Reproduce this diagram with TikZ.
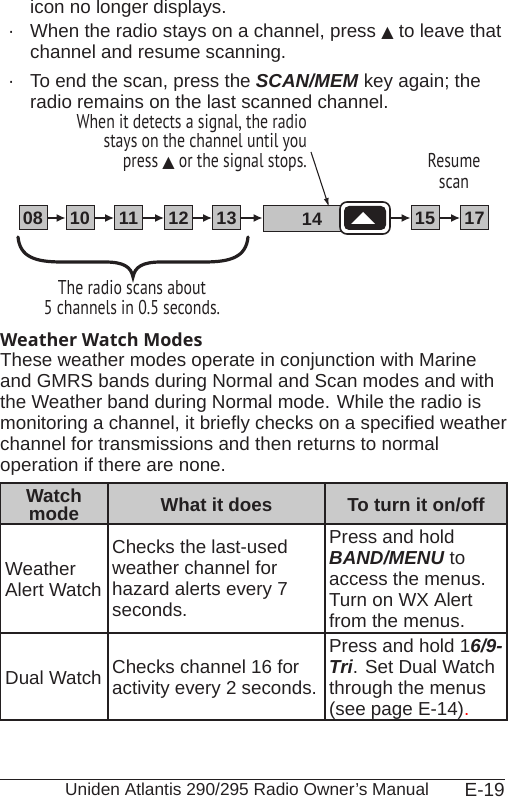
\documentclass[tikz,border=0pt]{standalone}
\usepackage{fontspec}
\setmainfont{Liberation Sans}
\newfontfamily\condf[FakeStretch=0.79]{PT Sans}
\newfontfamily\headf{Open Sans}
\newfontfamily\symf{DejaVu Sans}
\usetikzlibrary{arrows.meta}
\definecolor{ink}{HTML}{231F20}
\definecolor{boxgray}{HTML}{C4C4C4}
\definecolor{headgray}{HTML}{CACACA}
\newcommand\tri{{\symf\fontsize{16}{16}\selectfont ▲}}
\begin{document}
\begin{tikzpicture}[x=1pt,y=-1pt,
  body/.style={anchor=base west, inner sep=0, text=ink, font=\fontsize{18.8}{21}\selectfont},
  bodyc/.style={body, anchor=base},
  bodyb/.style={bodyc, font=\bfseries\fontsize{18.8}{21}\selectfont},
  cond/.style={inner sep=0, text=ink, font=\condf\fontsize{20}{17.5}\selectfont},
  chan/.style={draw=ink, fill=boxgray, line width=1pt, minimum width=28, minimum height=24, inner sep=0, text=ink, font=\bfseries\fontsize{18}{18}\selectfont},
  chanarrow/.style={-{Latex[length=9pt,width=8pt]}, line width=1.4pt, draw=ink},
  tablerule/.style={draw=ink, line width=1.2pt}]
\useasboundingbox (0,0) rectangle (508,799);

% top text
\node[body] (t1) at (30,14) {icon no longer displays.};
\node[body] (b1) at (8,38) {·};
\node[body] (t2) at (30,38) {When the radio stays on a channel, press \tri\ to leave that};
\node[body] (t3) at (30,59) {channel and resume scanning.};
\node[body] (b2) at (8,88) {·};
\node[body] (t4) at (30,88) {To end the scan, press the \textbf{\itshape SCAN/MEM} key again; the};
\node[body] (t5) at (30,109) {radio remains on the last scanned channel.};

% diagram
\node[chan] (c08) at (33,218) {08};
\node[chan] (c10) at (80,218) {10};
\node[chan] (c11) at (128.5,218) {11};
\node[chan] (c12) at (178.5,218) {12};
\node[chan] (c13) at (226.5,218) {13};
\node[chan, minimum width=82, minimum height=26] (b14) at (304,219) {};
\node[inner sep=0, text=ink, font=\bfseries\fontsize{18}{18}\selectfont] (t14) at (312,219) {14};
\node[draw=ink, fill=white, line width=1.6pt, rounded corners=7pt, minimum width=50, minimum height=32, inner sep=0] (btn) at (365,218) {};
\node[fill=ink, rounded corners=5pt, minimum width=42, minimum height=24, inner sep=0] (btnin) at (365,218) {};
\fill[white] (351,224) -- (375,224) -- (363,212) -- cycle;
\node[chan] (c15) at (425,218) {15};
\node[chan] (c17) at (474.5,218) {17};
\draw[chanarrow] (c08.east) -- (c10.west);
\draw[chanarrow] (c10.east) -- (c11.west);
\draw[chanarrow] (c11.east) -- (c12.west);
\draw[chanarrow] (c12.east) -- (c13.west);
\draw[chanarrow] (c13.east) -- (b14.west |- c13.east);
\draw[chanarrow] (btn.east |- c15.west) -- (c15.west);
\draw[chanarrow] (c15.east) -- (c17.west);

\node[cond, align=right, anchor=north east] (sig) at (307,114) {When it detects a signal, the radio\\stays on the channel until you\\press \tri\ or the signal stops.};
\coordinate (sigtail) at (311,152);
\coordinate (sighead) at (329,207);
\draw[-{Latex[length=9pt,width=5pt]}, line width=1.1pt, draw=ink] (sigtail) -- (sighead);

\node[cond, align=center, font=\condf\fontsize{20}{21.5}\selectfont] (resume) at (454,171) {Resume\\scan};

\draw[line width=3.2pt, draw=ink, line cap=round] (18,237) .. controls (20,257) and (35,262) .. (62,262) -- (105,262) .. controls (124,262) and (131,267) .. (133,277) .. controls (135,267) and (142,262) .. (161,262) -- (204,262) .. controls (231,262) and (246,257) .. (248,237);
\node[cond, align=center, font=\condf\fontsize{20}{20}\selectfont] (scans) at (132,298) {The radio scans about\\5 channels in 0.5 seconds.};

% weather section
\node[body, font=\headf\bfseries\fontsize{18}{21}\selectfont] (head) at (0,346) {Weather Watch Modes};
\node[body] (p1) at (0,366) {These weather modes operate in conjunction with Marine};
\node[body] (p2) at (0,387) {and GMRS bands during Normal and Scan modes and with};
\node[body] (p3) at (0,408) {the Weather band during Normal mode. While the radio is};
\node[body] (p4) at (0,429) {monitoring a channel, it briefly checks on a specified weather};
\node[body] (p5) at (0,450) {channel for transmissions and then returns to normal};
\node[body] (p6) at (0,471) {operation if there are none.};

% table
\fill[headgray] (0,483) rectangle (507,524);
\draw[tablerule] (0,483) rectangle (507,720);
\draw[tablerule] (0,524) -- (507,524);
\draw[tablerule] (0,633) -- (507,633);
\draw[tablerule] (108,483) -- (108,720);
\draw[tablerule] (325,483) -- (325,720);

\node[bodyb] (h1a) at (54,502) {Watch};
\node[bodyb] (h1b) at (54,520) {mode};
\node[bodyb] (h2) at (216.5,511) {What it does};
\node[bodyb] (h3) at (416,511) {To turn it on/off};

\node[body] (r1a) at (5,575) {Weather};
\node[body] (r1b) at (5,596) {Alert Watch};
\node[body] (r2a) at (112,553) {Checks the last-used};
\node[body] (r2b) at (112,574) {weather channel for};
\node[body] (r2c) at (112,595) {hazard alerts every 7};
\node[body] (r2d) at (112,616) {seconds.};
\node[body] (r3a) at (329,543) {Press and hold};
\node[body] (r3b) at (329,564) {\textbf{\itshape BAND/MENU} to};
\node[body] (r3c) at (329,585) {access the menus.};
\node[body] (r3d) at (329,606) {Turn on WX Alert};
\node[body] (r3e) at (329,627) {from the menus.};

\node[body] (s1) at (5,684) {Dual Watch};
\node[body] (s2a) at (112,673) {Checks channel 16 for};
\node[body] (s2b) at (112,694) {activity every 2 seconds.};
\node[body] (s3a) at (329,652) {Press and hold 1\textbf{\itshape 6/9-}};
\node[body] (s3b) at (329,673) {\textbf{\itshape Tri}. Set Dual Watch};
\node[body] (s3c) at (329,694) {through the menus};
\node[body] (s3d) at (329,715) {(see page E-14)\textcolor{red}{.}};

% footer
\draw[draw=ink, line width=1pt] (0,779) -- (505,779);
\node[body, font=\fontsize{17.3}{20}\selectfont] (foot) at (65,795) {Uniden Atlantis 290/295 Radio Owner’s Manual};
\node[body, anchor=base east, font=\fontsize{19}{20}\selectfont] (page) at (505,796) {E-19};
\end{tikzpicture}
\end{document}
